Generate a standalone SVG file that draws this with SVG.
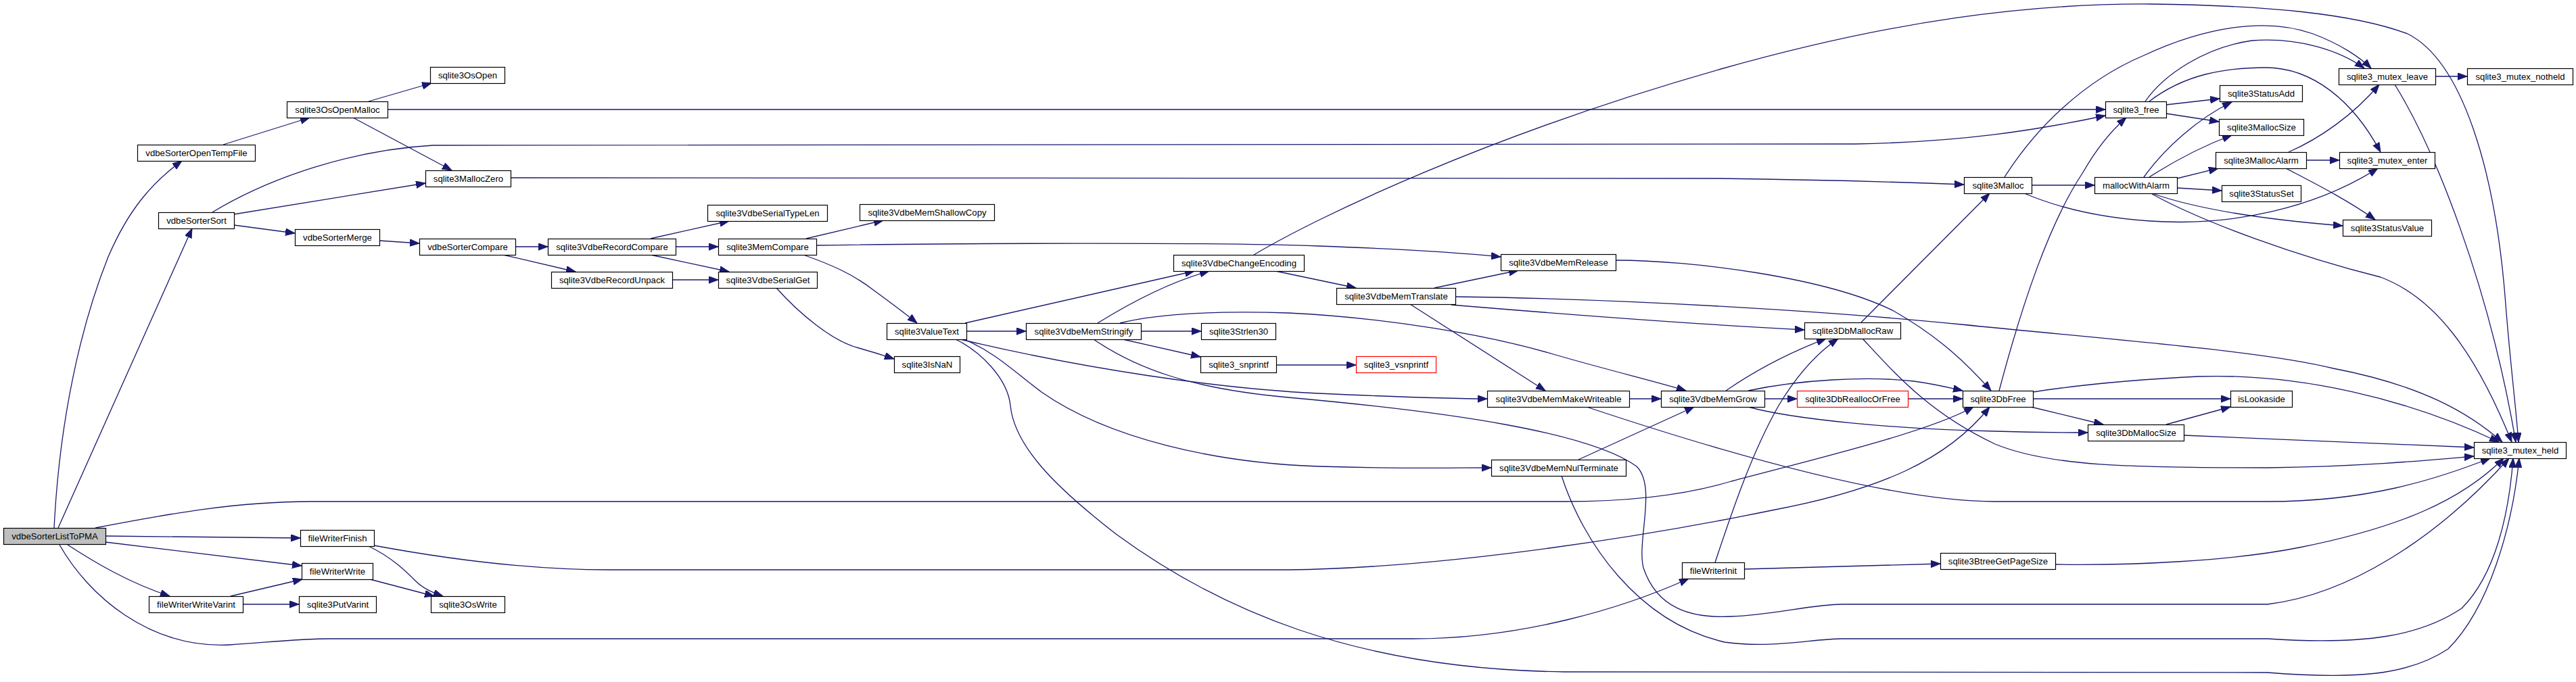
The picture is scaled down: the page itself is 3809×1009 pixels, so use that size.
<svg xmlns="http://www.w3.org/2000/svg" width="3809" height="1009" viewBox="0 0 3809 1009">
<style>
.node rect{fill:#fff;stroke:#000;stroke-width:1.2}
.node.root rect{fill:#bfbfbf}
.node.red rect{stroke:#f00}
.node text{font-family:"Liberation Sans",Arial,sans-serif;font-size:13.2px;text-anchor:middle;fill:#000}
.edges path{fill:none;stroke:#191970;stroke-width:1.3;marker-end:url(#a)}
</style>
<defs>
<marker id="a" markerWidth="15" markerHeight="11" refX="14" refY="5.25" orient="auto" markerUnits="userSpaceOnUse">
<path d="M0,0 L14,5.25 L0,10.5 z" fill="#191970" stroke="#191970" stroke-width="1"/>
</marker>
</defs>
<rect width="3809" height="1009" fill="#fff"/>
<g class="edges" id="edges">
<path d="M80,781 C88,620 120,480 160,380 C190,310 225,270 269,238"/>
<path d="M86,781 L284,338"/>
<path d="M141,781 C250,760 350,742 460,742 L2313,742 C2420,742 2500,730 2560,712 C2680,680 2850,640 2918,602"/>
<path d="M156,793 L444,796"/>
<path d="M156,802 L446,837"/>
<path d="M100,806 C140,832 190,862 251,882"/>
<path d="M88,806 C130,880 220,960 340,954 C400,950 440,945 490,945 L2089,945 C2250,945 2400,900 2497,856"/>
<path d="M330,214 L458,174"/>
<path d="M545,150 L638,123"/>
<path d="M573,162 L3113,162"/>
<path d="M522,174 L668,252"/>
<path d="M314,314 C400,262 520,222 640,215 L2744,213 C2900,210 3010,193 3113,171"/>
<path d="M346,317 L629,271"/>
<path d="M346,333 L436,345"/>
<path d="M755,263 L2540,264 C2700,266 2800,269 2904,273"/>
<path d="M561,356 L620,360"/>
<path d="M762,365 L810,365"/>
<path d="M744,377 L851,402"/>
<path d="M962,353 L1078,327"/>
<path d="M999,365 L1062,365"/>
<path d="M962,377 L1078,402"/>
<path d="M994,414 L1062,414"/>
<path d="M1192,353 L1306,326"/>
<path d="M1207,363 C1400,360 1800,358 1950,364 C2060,368 2150,373 2219,380"/>
<path d="M1188,377 C1230,392 1260,405 1290,428 C1320,450 1340,465 1356,478"/>
<path d="M1148,426 C1180,462 1230,505 1270,515 C1295,522 1310,527 1322,531"/>
<path d="M1427,478 L1766,401"/>
<path d="M1429,490 L1517,490"/>
<path d="M1420,502 C1600,545 1800,575 1950,582 C2060,587 2130,590 2199,590"/>
<path d="M1425,502 C1470,520 1500,550 1540,580 C1640,650 1800,685 1950,690 C2080,694 2150,692 2205,692"/>
<path d="M1413,502 C1450,520 1490,560 1494,600 C1500,660 1560,720 1650,790 C1800,900 2000,990 2313,994 L3353,995 C3480,1005 3560,1000 3620,960 C3680,900 3715,780 3725,678"/>
<path d="M1623,478 C1660,455 1720,420 1788,401"/>
<path d="M1687,490 L1776,490"/>
<path d="M1660,502 L1775,528"/>
<path d="M1656,478 C1720,462 1820,460 1905,463 C2050,470 2200,495 2300,525 C2380,548 2450,565 2493,578"/>
<path d="M1617,502 C1680,545 1760,575 1905,588 C2150,610 2350,640 2420,690 C2450,720 2420,800 2430,840 C2450,900 2500,915 2560,912 C2620,910 2680,894 2724,894 L3353,894 C3470,880 3600,800 3710,678"/>
<path d="M1887,540 L2005,540"/>
<path d="M1886,401 L2005,426"/>
<path d="M1854,377 C1950,320 2200,200 2545,102 C2800,30 3000,5 3180,6 C3350,8 3480,20 3560,50 C3640,90 3690,250 3705,450 C3712,540 3720,600 3724,654"/>
<path d="M2121,426 L2245,400"/>
<path d="M2152,439 C2400,442 2700,460 2900,480 C3150,505 3350,520 3450,545 C3580,570 3650,610 3700,654"/>
<path d="M2146,451 C2350,468 2550,482 2668,488"/>
<path d="M2085,450 L2285,578"/>
<path d="M2409,590 L2456,590"/>
<path d="M2346,602 C2550,670 2800,742 2950,742 L3353,742 C3500,742 3600,710 3682,678"/>
<path d="M2334,680 L2505,602"/>
<path d="M2309,704 C2340,800 2420,920 2550,950 C2620,960 2680,945 2724,945 L3353,945 C3500,955 3580,940 3640,900 C3690,850 3710,760 3716,678"/>
<path d="M2552,578 C2600,545 2650,520 2700,501"/>
<path d="M2609,590 L2657,590"/>
<path d="M2585,578 C2660,562 2760,556 2830,564 C2860,568 2880,573 2902,578"/>
<path d="M2585,602 C2650,620 2800,635 2950,638 C3020,640 3060,640 3087,640"/>
<path d="M2821,590 L2902,590"/>
<path d="M2536,832 C2560,760 2590,670 2630,600 C2660,550 2690,520 2718,501"/>
<path d="M2579,842 L2869,834"/>
<path d="M2752,477 L2942,286"/>
<path d="M2754,501 C2800,550 2850,610 2950,657 C3030,690 3150,692 3353,692 C3500,690 3600,680 3658,675"/>
<path d="M2389,385 C2500,385 2700,410 2800,460 C2870,500 2910,540 2944,578"/>
<path d="M2956,578 C2990,450 3030,330 3080,255 C3100,220 3120,195 3144,174"/>
<path d="M3006,580 C3070,570 3150,562 3250,557 C3400,552 3560,590 3695,654"/>
<path d="M3006,590 L3298,590"/>
<path d="M3003,602 L3110,628"/>
<path d="M3203,628 L3298,602"/>
<path d="M3229,644 L3658,662"/>
<path d="M3039,835 C3150,837 3300,830 3400,810 C3550,780 3640,740 3702,678"/>
<path d="M3004,274 L3097,274"/>
<path d="M2964,262 C3010,190 3080,120 3170,82 C3260,40 3350,25 3420,50 C3460,65 3490,85 3506,101"/>
<path d="M2993,286 C3050,310 3120,325 3200,328 C3300,332 3420,310 3516,249"/>
<path d="M3203,155 L3282,146"/>
<path d="M3203,168 L3281,180"/>
<path d="M3172,150 C3200,110 3260,70 3330,60 C3400,55 3460,75 3496,101"/>
<path d="M3178,150 C3230,110 3290,100 3350,100 C3420,100 3480,150 3520,225"/>
<path d="M3170,262 C3200,220 3250,175 3300,151"/>
<path d="M3178,262 C3220,235 3260,215 3300,200"/>
<path d="M3219,264 L3280,249"/>
<path d="M3219,278 L3285,282"/>
<path d="M3182,286 C3250,310 3350,325 3464,334"/>
<path d="M3182,287 C3260,330 3400,380 3520,410 C3600,440 3660,520 3714,654"/>
<path d="M3384,225 C3430,205 3480,170 3518,125"/>
<path d="M3410,237 L3459,237"/>
<path d="M3380,249 C3420,270 3470,295 3512,325"/>
<path d="M3601,113 L3648,113"/>
<path d="M3541,125 C3600,220 3680,420 3720,654"/>
<path d="M545,808 C580,825 600,845 615,860 C625,870 640,877 655,882"/>
<path d="M553,807 C650,825 780,843 900,843 L1905,843 C2150,840 2450,790 2620,755 C2780,725 2880,680 2942,602"/>
<path d="M547,857 L642,882"/>
<path d="M341,882 L447,857"/>
<path d="M359,894 L442,894"/>
</g>
<g id="n1" class="node root"><rect x="5.5" y="781.5" width="151" height="24"/><text x="81" y="798">vdbeSorterListToPMA</text></g>
<g id="n2" class="node"><rect x="203.5" y="214.5" width="174" height="24"/><text x="290.5" y="231">vdbeSorterOpenTempFile</text></g>
<g id="n3" class="node"><rect x="424.5" y="150.5" width="149" height="24"/><text x="499" y="167">sqlite3OsOpenMalloc</text></g>
<g id="n4" class="node"><rect x="636.5" y="99.5" width="110" height="24"/><text x="691.5" y="116">sqlite3OsOpen</text></g>
<g id="n5" class="node"><rect x="629.5" y="252.5" width="126" height="24"/><text x="692.5" y="269">sqlite3MallocZero</text></g>
<g id="n6" class="node"><rect x="234.5" y="314.5" width="112" height="24"/><text x="290.5" y="331">vdbeSorterSort</text></g>
<g id="n7" class="node"><rect x="436.5" y="339.5" width="125" height="24"/><text x="499" y="356">vdbeSorterMerge</text></g>
<g id="n8" class="node"><rect x="620.5" y="353.5" width="142" height="24"/><text x="691.5" y="370">vdbeSorterCompare</text></g>
<g id="n9" class="node"><rect x="810.5" y="353.5" width="189" height="24"/><text x="905" y="370">sqlite3VdbeRecordCompare</text></g>
<g id="n10" class="node"><rect x="815.5" y="402.5" width="179" height="24"/><text x="905" y="419">sqlite3VdbeRecordUnpack</text></g>
<g id="n11" class="node"><rect x="1046.5" y="303.5" width="177" height="24"/><text x="1135" y="320">sqlite3VdbeSerialTypeLen</text></g>
<g id="n12" class="node"><rect x="1062.5" y="353.5" width="145" height="24"/><text x="1135" y="370">sqlite3MemCompare</text></g>
<g id="n13" class="node"><rect x="1062.5" y="402.5" width="146" height="24"/><text x="1135.5" y="419">sqlite3VdbeSerialGet</text></g>
<g id="n14" class="node"><rect x="1271.5" y="302.5" width="199" height="24"/><text x="1371" y="319">sqlite3VdbeMemShallowCopy</text></g>
<g id="n15" class="node"><rect x="1311.5" y="478.5" width="118" height="24"/><text x="1370.5" y="495">sqlite3ValueText</text></g>
<g id="n16" class="node"><rect x="1322.5" y="527.5" width="97" height="24"/><text x="1371" y="544">sqlite3IsNaN</text></g>
<g id="n17" class="node"><rect x="1735.5" y="377.5" width="193" height="24"/><text x="1832" y="394">sqlite3VdbeChangeEncoding</text></g>
<g id="n18" class="node"><rect x="1517.5" y="478.5" width="170" height="24"/><text x="1602.5" y="495">sqlite3VdbeMemStringify</text></g>
<g id="n19" class="node"><rect x="1776.5" y="478.5" width="110" height="24"/><text x="1831.5" y="495">sqlite3Strlen30</text></g>
<g id="n20" class="node"><rect x="1775.5" y="527.5" width="112" height="24"/><text x="1831.5" y="544">sqlite3_snprintf</text></g>
<g id="n21" class="node red"><rect x="2005.5" y="527.5" width="118" height="24"/><text x="2064.5" y="544">sqlite3_vsnprintf</text></g>
<g id="n22" class="node"><rect x="1976.5" y="426.5" width="176" height="24"/><text x="2064.5" y="443">sqlite3VdbeMemTranslate</text></g>
<g id="n23" class="node"><rect x="2219.5" y="376.5" width="170" height="24"/><text x="2304.5" y="393">sqlite3VdbeMemRelease</text></g>
<g id="n24" class="node"><rect x="2199.5" y="578.5" width="210" height="24"/><text x="2304.5" y="595">sqlite3VdbeMemMakeWriteable</text></g>
<g id="n25" class="node"><rect x="2205.5" y="680.5" width="199" height="24"/><text x="2305" y="697">sqlite3VdbeMemNulTerminate</text></g>
<g id="n26" class="node"><rect x="2456.5" y="578.5" width="153" height="24"/><text x="2533" y="595">sqlite3VdbeMemGrow</text></g>
<g id="n27" class="node"><rect x="2668.5" y="477.5" width="142" height="24"/><text x="2739.5" y="494">sqlite3DbMallocRaw</text></g>
<g id="n28" class="node red"><rect x="2657.5" y="578.5" width="164" height="24"/><text x="2739.5" y="595">sqlite3DbReallocOrFree</text></g>
<g id="n29" class="node"><rect x="2902.5" y="578.5" width="104" height="24"/><text x="2954.5" y="595">sqlite3DbFree</text></g>
<g id="n30" class="node"><rect x="3087.5" y="628.5" width="142" height="24"/><text x="3158.5" y="645">sqlite3DbMallocSize</text></g>
<g id="n31" class="node"><rect x="3298.5" y="578.5" width="91" height="24"/><text x="3344" y="595">isLookaside</text></g>
<g id="n32" class="node"><rect x="3658.5" y="654.5" width="136" height="24"/><text x="3726.5" y="671">sqlite3_mutex_held</text></g>
<g id="n33" class="node"><rect x="2487.5" y="832.5" width="92" height="24"/><text x="2533.5" y="849">fileWriterInit</text></g>
<g id="n34" class="node"><rect x="2869.5" y="818.5" width="170" height="24"/><text x="2954.5" y="835">sqlite3BtreeGetPageSize</text></g>
<g id="n35" class="node"><rect x="2904.5" y="262.5" width="100" height="24"/><text x="2954.5" y="279">sqlite3Malloc</text></g>
<g id="n36" class="node"><rect x="3097.5" y="262.5" width="122" height="24"/><text x="3158.5" y="279">mallocWithAlarm</text></g>
<g id="n37" class="node"><rect x="3113.5" y="150.5" width="90" height="24"/><text x="3158.5" y="167">sqlite3_free</text></g>
<g id="n38" class="node"><rect x="3282.5" y="126.5" width="122" height="24"/><text x="3343.5" y="143">sqlite3StatusAdd</text></g>
<g id="n39" class="node"><rect x="3281.5" y="176.5" width="125" height="24"/><text x="3344" y="193">sqlite3MallocSize</text></g>
<g id="n40" class="node"><rect x="3276.5" y="225.5" width="134" height="24"/><text x="3343.5" y="242">sqlite3MallocAlarm</text></g>
<g id="n41" class="node"><rect x="3285.5" y="274.5" width="117" height="24"/><text x="3344" y="291">sqlite3StatusSet</text></g>
<g id="n42" class="node"><rect x="3458.5" y="101.5" width="143" height="24"/><text x="3530" y="118">sqlite3_mutex_leave</text></g>
<g id="n43" class="node"><rect x="3459.5" y="225.5" width="141" height="24"/><text x="3530" y="242">sqlite3_mutex_enter</text></g>
<g id="n44" class="node"><rect x="3464.5" y="325.5" width="131" height="24"/><text x="3530" y="342">sqlite3StatusValue</text></g>
<g id="n45" class="node"><rect x="3648.5" y="101.5" width="156" height="24"/><text x="3726.5" y="118">sqlite3_mutex_notheld</text></g>
<g id="n46" class="node"><rect x="444.5" y="784.5" width="109" height="24"/><text x="499" y="801">fileWriterFinish</text></g>
<g id="n47" class="node"><rect x="446.5" y="833.5" width="105" height="24"/><text x="499" y="850">fileWriterWrite</text></g>
<g id="n48" class="node"><rect x="220.5" y="882.5" width="139" height="24"/><text x="290" y="899">fileWriterWriteVarint</text></g>
<g id="n49" class="node"><rect x="442.5" y="882.5" width="114" height="24"/><text x="499.5" y="899">sqlite3PutVarint</text></g>
<g id="n50" class="node"><rect x="637.5" y="882.5" width="109" height="24"/><text x="692" y="899">sqlite3OsWrite</text></g>
</svg>
